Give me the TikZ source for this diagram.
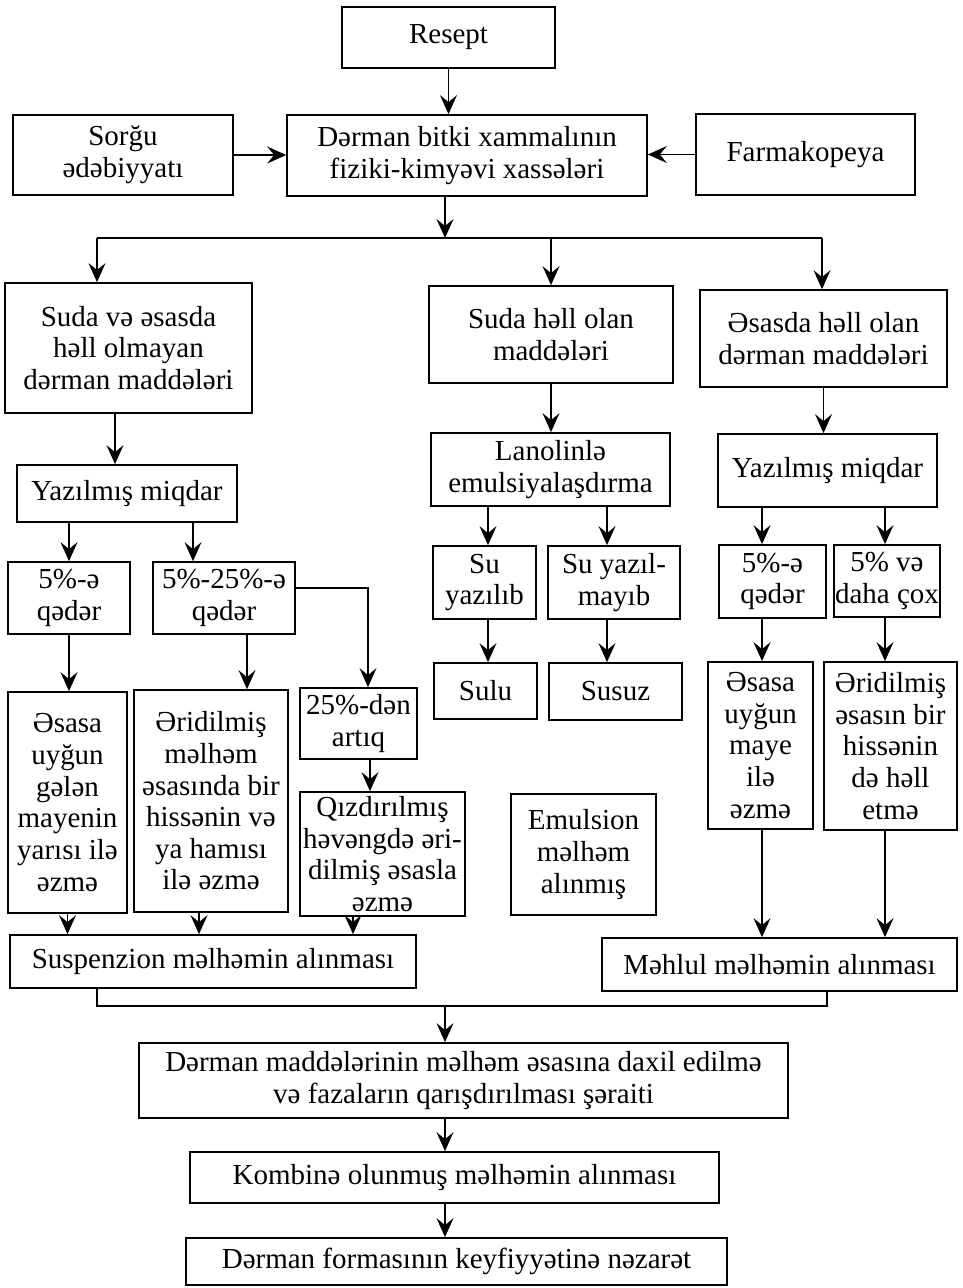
\documentclass[tikz,border=0pt]{standalone}
\usepackage{fontspec}
\setmainfont{Liberation Serif}
\usetikzlibrary{arrows.meta}
\tikzset{
    boxnode/.style={
        rectangle,
        draw, % 黑色边框
        line width=1pt, % 边框加粗
        align=center,
        inner sep=0.5pt,
        font=\fontsize{16.5}{18}\selectfont
    },
    boxsize/.style 2 args={
        minimum width=#1cm,
        minimum height=#2cm
    },
    flowarrow/.style={
        line width=0.8pt,
        -{Stealth[length=3.8mm, width=3.4mm, inset=1.4mm]}
    }
}

\begin{document}
\begin{tikzpicture}[x=0.02cm, y=-0.02cm, line width=0.8pt]
            \useasboundingbox (0,0) rectangle (963,1288);
            % 顶部
            \node[boxnode, boxsize={4.26}{1.22}] (resept) at (448.5,37.5) {Resept};
            \node[boxnode, boxsize={4.4}{1.6}] (sorgu) at (123,155) {Sorğu\\ədəbiyyatı};
            \node[boxnode, boxsize={7.2}{1.62}] (xassa) at (467,155.5) {Dərman bitki xammalının\\fiziki-kimyəvi xassələri};
            \node[boxnode, boxsize={4.38}{1.62}] (farm) at (805.5,154.5) {Farmakopeya};
            % 三个分支
            \node[boxnode, boxsize={4.94}{2.6}] (suda1) at (128.5,348) {Suda və əsasda\\həll olmayan\\dərman maddələri};
            \node[boxnode, boxsize={4.88}{1.94}] (suda2) at (551,334.5) {Suda həll olan\\maddələri};
            \node[boxnode, boxsize={4.94}{1.94}] (esas) at (823.5,338.5) {Əsasda həll olan\\dərman maddələri};
            \node[boxnode, boxsize={4.4}{1.14}] (miqdar1) at (127,493.5) {Yazılmış miqdar};
            \node[boxnode, boxsize={4.78}{1.46}] (lanolin) at (550.5,469.5) {Lanolinlə\\emulsiyalaşdırma};
            \node[boxnode, boxsize={4.38}{1.46}] (miqdar2) at (827.5,470.5) {Yazılmış miqdar};
            \node[boxnode, boxsize={2.44}{1.44}] (faiz1) at (69,598) {5\%-ə\\qədər};
            \node[boxnode, boxsize={2.84}{1.44}] (faiz2) at (224,598) {5\%-25\%-ə\\qədər};
            \node[boxnode, boxsize={2.06}{1.46}] (suvar) at (484.5,582.5) {Su\\yazılıb};
            \node[boxnode, boxsize={2.64}{1.46}] (suyox) at (614,582.5) {Su yazıl-\\mayıb};
            \node[boxnode, boxsize={2.14}{1.46}] (faiz3) at (772.5,581.5) {5\%-ə\\qədər};
            \node[boxnode, boxsize={2.12}{1.44}] (faiz4) at (887,581) {5\% və\\daha çox};
            \node[boxnode, boxsize={2.38}{4.42}] (ezme1) at (67.5,802.5) {Əsasa\\uyğun\\gələn\\mayenin\\yarısı ilə\\əzmə};
            \node[boxnode, boxsize={3.08}{4.44}] (ezme2) at (211,801) {Əridilmiş\\məlhəm\\əsasında bir\\hissənin və\\ya hamısı\\ilə əzmə};
            \node[boxnode, boxsize={2.34}{1.42}] (faiz5) at (358.5,723.5) {25\%-dən\\artıq};
            \node[boxnode, boxsize={3.3}{2.48}] (ezme3) at (382.5,854) {Qızdırılmış\\həvəngdə əri-\\dilmiş əsasla\\əzmə};
            \node[boxnode, boxsize={2.06}{1.12}] (sulu) at (485.5,691) {Sulu};
            \node[boxnode, boxsize={2.66}{1.14}] (susuz) at (615.5,691.5) {Susuz};
            \node[boxnode, boxsize={2.9}{2.42}] (emul) at (583.5,854.5) {Emulsion\\məlhəm\\alınmış};
            \node[boxnode, boxsize={2.1}{3.34}] (ezme4) at (760.5,745.5) {Əsasa\\uyğun\\maye\\ilə\\əzmə};
            \node[boxnode, boxsize={2.66}{3.36}] (hell) at (890.5,746) {Əridilmiş\\əsasın bir\\hissənin\\də həll\\etmə};
            % 底部
            \node[boxnode, boxsize={8.12}{1.06}] (susp) at (213,961.5) {Suspenzion məlhəmin alınması};
            \node[boxnode, boxsize={7.1}{1.06}] (mehlul) at (779.5,964.5) {Məhlul məlhəmin alınması};
            \node[boxnode, boxsize={12.98}{1.5}] (daxil) at (463.5,1080.5) {Dərman maddələrinin məlhəm əsasına daxil edilmə\\və fazaların qarışdırılması şəraiti};
            \node[boxnode, boxsize={10.58}{1.02}] (kombin) at (454.5,1177.5) {Kombinə olunmuş məlhəmin alınması};
            \node[boxnode, boxsize={10.82}{0.94}] (nezaret) at (456.5,1261.5) {Dərman formasının keyfiyyətinə nəzarət};
            % 连线的点
            \coordinate (split) at (445,238);
            \coordinate (lsplit) at (97,238);
            \coordinate (rsplit) at (822,238);
            \coordinate (join) at (445,1006);
            \coordinate (ljoin) at (97,1006);
            \coordinate (rjoin) at (827,1006);
            \coordinate (tur) at (368,588);
            \coordinate (xa) at (115,0);
            \coordinate (xb) at (193,0);
            \coordinate (xc) at (247,0);
            \coordinate (xd) at (370,0);
            \coordinate (xe) at (199,0);
            \coordinate (xf) at (353,0);
            \coordinate (xg) at (488,0);
            \coordinate (xh) at (607,0);
            \coordinate (xi) at (762,0);
            \coordinate (xj) at (885,0);
            % 箭头
            \draw[flowarrow] (resept.south) -- (resept.south |- xassa.north);
            \draw[flowarrow] (sorgu.east) -- (sorgu.east -| xassa.west);
            \draw[flowarrow] (farm.west) -- (farm.west -| xassa.east);
            \draw[flowarrow] (xassa.south -| split) -- (split);
            \draw (lsplit) -- (rsplit);
            \draw[flowarrow] (lsplit) -- (lsplit |- suda1.north);
            \draw[flowarrow] (suda2 |- split) -- (suda2.north);
            \draw[flowarrow] (rsplit) -- (rsplit |- esas.north);
            \draw[flowarrow] (suda1.south -| xa) -- (miqdar1.north -| xa);
            \draw[flowarrow] (miqdar1.south -| faiz1) -- (faiz1.north);
            \draw[flowarrow] (miqdar1.south -| xb) -- (faiz2.north -| xb);
            \draw[flowarrow] (faiz1.south) -- (faiz1.south |- ezme1.north);
            \draw[flowarrow] (faiz2.south -| xc) -- (ezme2.north -| xc);
            \draw[flowarrow] (faiz2.east |- tur) -- (tur) -- (faiz5.north -| tur);
            \draw[flowarrow] (faiz5.south -| xd) -- (ezme3.north -| xd);
            \draw[flowarrow] (ezme1.south) -- (ezme1.south |- susp.north);
            \draw[flowarrow] (ezme2.south -| xe) -- (susp.north -| xe);
            \draw[flowarrow] (ezme3.south -| xf) -- (susp.north -| xf);
            \draw[flowarrow] (suda2.south) -- (suda2.south |- lanolin.north);
            \draw[flowarrow] (lanolin.south -| xg) -- (suvar.north -| xg);
            \draw[flowarrow] (lanolin.south -| xh) -- (suyox.north -| xh);
            \draw[flowarrow] (suvar.south -| xg) -- (sulu.north -| xg);
            \draw[flowarrow] (suyox.south -| xh) -- (susuz.north -| xh);
            \draw[flowarrow] (esas.south) -- (esas.south |- miqdar2.north);
            \draw[flowarrow] (miqdar2.south -| xi) -- (faiz3.north -| xi);
            \draw[flowarrow] (miqdar2.south -| xj) -- (faiz4.north -| xj);
            \draw[flowarrow] (faiz3.south -| xi) -- (ezme4.north -| xi);
            \draw[flowarrow] (faiz4.south -| xj) -- (hell.north -| xj);
            \draw[flowarrow] (ezme4.south -| xi) -- (mehlul.north -| xi);
            \draw[flowarrow] (hell.south -| xj) -- (mehlul.north -| xj);
            \draw (susp.south -| lsplit) -- (ljoin) -- (rjoin) -- (mehlul.south -| rjoin);
            \draw[flowarrow] (join) -- (join |- daxil.north);
            \draw[flowarrow] (daxil.south -| join) -- (kombin.north -| join);
            \draw[flowarrow] (kombin.south -| join) -- (nezaret.north -| join);
\end{tikzpicture}
\end{document}
